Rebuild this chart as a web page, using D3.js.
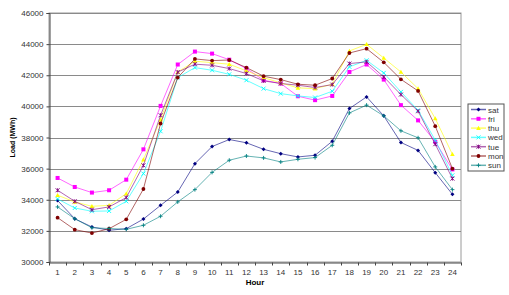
<!DOCTYPE html>
<html>
<head>
<meta charset="utf-8">
<script src="https://cdn.jsdelivr.net/npm/d3@7"></script>
<style>
  body { margin: 0; background: #fff; }
  svg text { font-family: "Liberation Sans", Arial, sans-serif; }
</style>
</head>
<body>
<div id="chart"></div>
<script>
const hours = d3.range(1, 25);
const yTicks = [30000, 32000, 34000, 36000, 38000, 40000, 42000, 44000, 46000];

// hourly load per weekday (MWh)
const sat = [33950, 32780, 32250, 32040, 32140, 32760, 33640, 34500, 36320, 37420, 37870, 37660, 37240, 36960, 36750, 36860, 37760, 39860, 40610, 39390, 37680, 37170, 35740, 34350];
const fri = [35400, 34820, 34460, 34610, 35290, 37240, 40030, 42690, 43520, 43390, 43000, 42430, 41680, 41470, 40650, 40400, 40670, 42210, 42690, 41720, 40080, 39100, 37720, 35950];
const thu = [34290, 33860, 33580, 33640, 34390, 36580, 39150, 42210, 42900, 42810, 42710, 42280, 41850, 41510, 41190, 41140, 41420, 43560, 43990, 43110, 42210, 41140, 39220, 36920];
const wed = [34050, 33470, 33260, 33280, 33900, 35680, 38400, 41850, 42490, 42320, 42060, 41680, 41140, 40820, 40670, 40570, 40970, 42540, 42960, 42150, 40930, 39750, 37830, 35570];
const tue = [34610, 33900, 33360, 33540, 34140, 36210, 39430, 42200, 42710, 42640, 42430, 42110, 41640, 41470, 41360, 41210, 41400, 42750, 42860, 41890, 40760, 39690, 37570, 35360];
const mon = [32850, 32080, 31860, 32140, 32740, 34690, 38900, 41850, 43050, 42940, 42980, 42490, 41940, 41720, 41420, 41360, 41790, 43430, 43710, 42830, 41740, 40990, 38730, 36000];
const sun = [33540, 32780, 32200, 32150, 32100, 32360, 32940, 33860, 34650, 35760, 36540, 36810, 36690, 36430, 36600, 36710, 37500, 39580, 40080, 39390, 38430, 37980, 36110, 34650];

const series = [
  { name: "sat", values: sat, color: "#000080", marker: "diamond" },
  { name: "fri", values: fri, color: "#ff00ff", marker: "square" },
  { name: "thu", values: thu, color: "#ffff00", marker: "triangle" },
  { name: "wed", values: wed, color: "#00ffff", marker: "x" },
  { name: "tue", values: tue, color: "#800080", marker: "star" },
  { name: "mon", values: mon, color: "#800000", marker: "circle" },
  { name: "sun", values: sun, color: "#008080", marker: "plus" }
];

const W = 509, H = 295;
const plot = { left: 49, right: 461, top: 13, bottom: 262 };

const svg = d3.select("#chart").append("svg")
  .attr("width", W).attr("height", H);

const x = d3.scaleBand().domain(hours).range([plot.left, plot.right]).padding(0);
const y = d3.scaleLinear().domain([30000, 46000]).range([plot.bottom, plot.top]);
const cx = h => x(h) + x.bandwidth() / 2;

// plot area
svg.append("rect")
  .attr("x", plot.left).attr("y", plot.top)
  .attr("width", plot.right - plot.left).attr("height", plot.bottom - plot.top)
  .attr("fill", "#fff").attr("stroke", "#9a9a9a");

// gridlines
svg.append("g")
  .selectAll("line")
  .data(yTicks.slice(1))
  .join("line")
  .attr("x1", plot.left).attr("x2", plot.right)
  .attr("y1", d => Math.round(y(d)) + 0.5).attr("y2", d => Math.round(y(d)) + 0.5)
  .attr("stroke", "#8a8a8a").attr("stroke-width", 1);

// y axis
const yAxis = svg.append("g")
  .attr("transform", `translate(${plot.left + 0.5},0)`)
  .call(d3.axisLeft(y).tickValues(yTicks).tickSize(3).tickFormat(d3.format("d")));
yAxis.select(".domain").attr("stroke", "#444");
yAxis.selectAll(".tick line").attr("stroke", "#444");
yAxis.selectAll("text").attr("font-size", 8).attr("fill", "#333").attr("x", -6);

// x axis with ticks at category boundaries
const xAxis = svg.append("g")
  .attr("transform", `translate(0,${plot.bottom + 0.5})`)
  .call(d3.axisBottom(x).tickSize(0).tickPadding(7));
xAxis.select(".domain").attr("stroke", "#444");
xAxis.selectAll("text").attr("font-size", 8).attr("fill", "#333");
xAxis.selectAll("line.bound")
  .data(d3.range(0, 25))
  .join("line")
  .attr("class", "bound")
  .attr("x1", i => Math.round(plot.left + i * x.bandwidth()) + 0.5)
  .attr("x2", i => Math.round(plot.left + i * x.bandwidth()) + 0.5)
  .attr("y1", 0).attr("y2", 3)
  .attr("stroke", "#444");

// axis titles
svg.append("text")
  .attr("x", (plot.left + plot.right) / 2).attr("y", 285)
  .attr("text-anchor", "middle")
  .attr("font-size", 8).attr("font-weight", "bold")
  .text("Hour");
svg.append("text")
  .attr("transform", `translate(15,${(plot.top + plot.bottom) / 2}) rotate(-90)`)
  .attr("text-anchor", "middle")
  .attr("font-size", 7).attr("font-weight", "bold")
  .text("Load (MWh)");

function drawMarker(g, type, color) {
  const s = 2;
  if (type === "diamond") {
    g.append("path").attr("d", `M0,${-s}L${s},0L0,${s}L${-s},0Z`).attr("fill", color);
  } else if (type === "square") {
    g.append("rect").attr("x", -2).attr("y", -2).attr("width", 4).attr("height", 4).attr("fill", color);
  } else if (type === "triangle") {
    g.append("path").attr("d", "M0,-2.3L2.3,1.8L-2.3,1.8Z").attr("fill", color);
  } else if (type === "x") {
    g.append("path").attr("d", `M${-s},${-s}L${s},${s}M${-s},${s}L${s},${-s}`).attr("stroke", color).attr("stroke-width", 0.9);
  } else if (type === "star") {
    g.append("path").attr("d", `M${-s},${-s}L${s},${s}M${-s},${s}L${s},${-s}M0,${-s}L0,${s}`).attr("stroke", color).attr("stroke-width", 0.9);
  } else if (type === "circle") {
    g.append("circle").attr("r", 1.9).attr("fill", color);
  } else if (type === "plus") {
    g.append("path").attr("d", `M${-s},0L${s},0M0,${-s}L0,${s}`).attr("stroke", color).attr("stroke-width", 0.9);
  }
}

const line = d3.line().x((d, i) => cx(hours[i])).y(d => y(d));

series.forEach(s => {
  const g = svg.append("g");
  g.append("path")
    .datum(s.values)
    .attr("d", line)
    .attr("fill", "none")
    .attr("stroke", s.color)
    .attr("stroke-width", 1)
    .attr("stroke-opacity", 0.6);
  s.values.forEach((v, i) => {
    const m = g.append("g").attr("transform", `translate(${cx(hours[i])},${y(v)})`);
    drawMarker(m, s.marker, s.color);
  });
});

// legend
const lg = svg.append("g").attr("transform", "translate(468,104)");
lg.append("rect").attr("x", 0).attr("y", 0).attr("width", 36).attr("height", 67)
  .attr("fill", "#fff").attr("stroke", "#555");
series.forEach((s, i) => {
  const yy = 5.5 + i * 9.3;
  const row = lg.append("g").attr("transform", `translate(0,${yy})`);
  row.append("line").attr("x1", 3).attr("x2", 18).attr("y1", 0).attr("y2", 0)
    .attr("stroke", s.color).attr("stroke-width", 1.5).attr("stroke-opacity", 0.6);
  const m = row.append("g").attr("transform", "translate(10.5,0)");
  drawMarker(m, s.marker, s.color);
  row.append("text").attr("x", 20).attr("y", 3).attr("font-size", 8).attr("fill", "#333").text(s.name);
});
</script>
</body>
</html>
